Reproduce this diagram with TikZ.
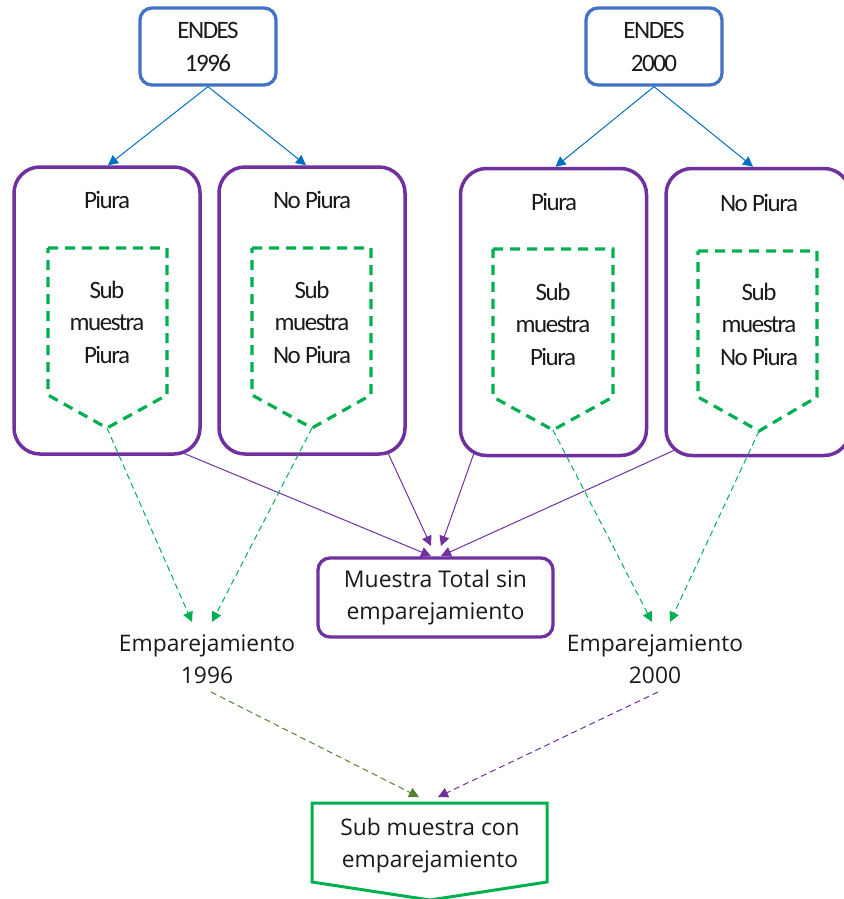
\documentclass[tikz,border=0pt]{standalone}
\usepackage{fontspec}
\setmainfont{Carlito}[LetterSpace=-6]
\newfontfamily\osans{Open Sans}
\usetikzlibrary{arrows.meta}
\definecolor{cblue}{HTML}{4472C4}
\definecolor{ablue}{HTML}{0070C0}
\definecolor{cpurp}{HTML}{7030A0}
\definecolor{cgreen}{HTML}{00B050}
\definecolor{colive}{HTML}{548235}
\definecolor{ctxt}{HTML}{1A1A1A}
\begin{document}
\begin{tikzpicture}[x=1pt,y=-1pt,
  every node/.style={text=ctxt},
  endes/.style={draw=cblue,line width=3.3pt,rounded corners=12pt,minimum width=136pt,minimum height=77pt,inner sep=0pt,align=center,font=\fontsize{25}{33}\selectfont},
  region/.style={draw=cpurp,line width=3.5pt,rounded corners=26pt,minimum width=186pt,minimum height=287pt,inner sep=0pt},
  ttl/.style={inner sep=0pt,align=center,font=\fontsize{25}{32.5}\selectfont},
  subm/.style={draw=cgreen,line width=3.2pt,dash pattern=on 10pt off 7pt},
  total/.style={draw=cpurp,line width=3.3pt,rounded corners=12pt,minimum width=235pt,minimum height=79pt,inner sep=0pt,align=center,font=\osans\fontsize{23}{32}\selectfont},
  emp/.style={inner sep=0pt,align=center,font=\osans\fontsize{22.8}{32}\selectfont},
  barrow/.style={draw=ablue,line width=1pt,-{Triangle[length=10pt,width=10pt]}},
  parrow/.style={draw=cpurp,line width=1pt,-{Triangle[length=10pt,width=10pt]}},
  garrow/.style={draw=cgreen,line width=1pt,dash pattern=on 6pt off 4pt,-{Triangle[length=10pt,width=10pt]}},
  oarrow/.style={draw=colive,line width=1pt,dash pattern=on 6pt off 4pt,-{Triangle[length=10pt,width=10pt]}},
  varrow/.style={draw=cpurp,line width=1pt,dash pattern=on 6pt off 4pt,-{Triangle[length=10pt,width=10pt]}}
]
\useasboundingbox (0,0) rectangle (843,899);

% ENDES boxes
\node[endes] (e96) at (208,46.5) {ENDES\\1996};
\node[endes] (e00) at (654,46.5) {ENDES\\2000};

% region boxes
\node[region] (p96) at (107,310.5) {};
\node[region] (n96) at (312,310.5) {};
\node[region] (p00) at (553.5,312) {};
\node[region,minimum width=184pt] (n00) at (758,312) {};

\node[ttl] (tp96) at (107,200) {Piura};
\node[ttl] (tn96) at (312,200) {No Piura};
\node[ttl] (tp00) at (554,202) {Piura};
\node[ttl] (tn00) at (759,203) {No Piura};

% dashed sub-sample pentagons
\draw[subm] (48,248) -- (167,248) -- (167,395) -- (107,428) -- (48,395) -- cycle;
\draw[subm] (252,248) -- (371,248) -- (371,395) -- (312,428) -- (252,395) -- cycle;
\draw[subm] (493,249) -- (613,249) -- (613,397) -- (553,430) -- (493,397) -- cycle;
\draw[subm] (698,251) -- (817,251) -- (817,397) -- (759,431) -- (698,397) -- cycle;
\coordinate (s1) at (107,428);
\coordinate (s2) at (312,428);
\coordinate (s3) at (553,430);
\coordinate (s4) at (759,431);

\node[ttl] (sp96) at (107,322) {Sub\\muestra\\Piura};
\node[ttl] (sn96) at (312,322) {Sub\\muestra\\No Piura};
\node[ttl] (sp00) at (553,324) {Sub\\muestra\\Piura};
\node[ttl] (sn00) at (759,324) {Sub\\muestra\\No Piura};

% middle nodes
\node[total] (tot) at (435.5,597.5) {Muestra Total sin\\emparejamiento};
\node[emp] (m96) at (207,659) {Emparejamiento\\1996};
\node[emp] (m00) at (655,659) {Emparejamiento\\2000};

% bottom pentagon
\draw[draw=cgreen,line width=3pt] (312,803) -- (547,803) -- (547,882) -- (430,900) -- (312,882) -- cycle;
\node[emp] (fin) at (430,846) {Sub muestra con\\emparejamiento};

% blue arrows
\draw[barrow] (e96.south) -- ([xshift=1pt]p96.north);
\draw[barrow] (e96.south) -- ([xshift=-6pt]n96.north);
\draw[barrow] (e00.south) -- ([xshift=2pt]p00.north);
\draw[barrow] (e00.south) -- ([xshift=-5pt]n00.north);

% purple arrows into total
\coordinate (a1) at (183,453);
\coordinate (a2) at (388,453);
\coordinate (a3) at (474,453);
\coordinate (a4) at (677,449);
\coordinate (t1) at (431,556);
\coordinate (t2) at (431,546);
\coordinate (t3) at (441,546);
\coordinate (t4) at (441,556);
\draw[parrow] (a1) -- (t1);
\draw[parrow] (a2) -- (t2);
\draw[parrow] (a3) -- (t3);
\draw[parrow] (a4) -- (t4);

% green dashed arrows
\coordinate (g1) at (192,622);
\coordinate (g2) at (212,622);
\coordinate (g3) at (652,622);
\coordinate (g4) at (670,622);
\draw[garrow] (s1) -- (g1);
\draw[garrow] (s2) -- (g2);
\draw[garrow] (s3) -- (g3);
\draw[garrow] (s4) -- (g4);

% bottom arrows
\coordinate (b1) at (211,692);
\coordinate (b2) at (658,692);
\coordinate (f1) at (419,797);
\coordinate (f2) at (438,797);
\draw[oarrow] (b1) -- (f1);
\draw[varrow] (b2) -- (f2);
\end{tikzpicture}
\end{document}
